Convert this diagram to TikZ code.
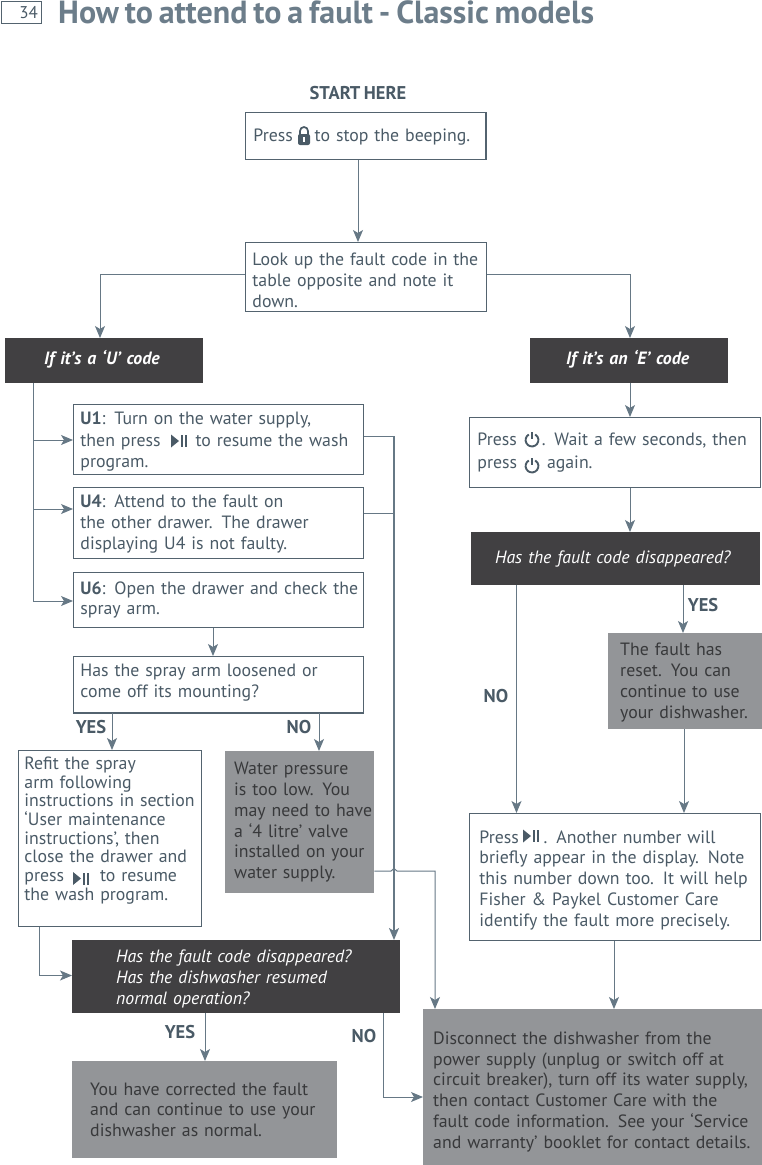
\documentclass[tikz,border=0pt]{standalone}
\usepackage{fontspec}
\setmainfont[WordSpace=0.72]{PT Sans}
\usetikzlibrary{arrows.meta}
\definecolor{inkblue}{HTML}{4A5A66}
\definecolor{titleblue}{HTML}{6C7D8A}
\definecolor{linkblue}{HTML}{667885}
\definecolor{edgeblue}{HTML}{53636F}
\definecolor{darkfill}{HTML}{414042}
\definecolor{greyfill}{HTML}{939598}
\definecolor{greyink}{HTML}{38393B}
\tikzset{
  sized/.style n args={3}{anchor=north west, minimum width=#1, minimum height=#2, inner xsep=#3, inner ysep=0pt, text width=#1-2*#3, align=left},
  nudge/.style={execute at begin node={\rule{0pt}{\dimexpr 13pt+#1\relax}}},
  lift/.style={execute at end node={\par\vspace*{#1}}},
  whitebox/.style={draw=edgeblue, line width=0.9pt, text=inkblue},
  darkbox/.style={fill=darkfill, text=white, font=\bodyfont\itshape},
  greybox/.style={fill=greyfill, text=greyink},
  flow/.style={draw=linkblue, line width=1pt, -{Stealth[length=12pt,width=10pt,inset=3pt]}},
  plainflow/.style={draw=linkblue, line width=1pt},
  heavyedge/.style={draw=edgeblue, line width=1.8pt},
  answer/.style={font=\fontsize{18.5}{21}\selectfont\bfseries, text=inkblue, inner sep=0pt},
  playicon/.pic={
    \fill[inkblue] (-8,-6.5) -- (0,0) -- (-8,6.5) -- cycle;
    \fill[inkblue] (2,-6) rectangle (4,6);
    \fill[inkblue] (6,-6) rectangle (8,6);
  },
  powericon/.pic={
    \draw[inkblue, line width=1.9pt] (-3.2,-5.5) arc[start angle=120, end angle=420, radius=6.4pt];
    \draw[inkblue, line width=1.9pt] (0,-8) -- (0,-1);
  },
  lockicon/.pic={
    \draw[inkblue, line width=1.7pt] (-4,-1) -- (-4,-5) arc[start angle=180, end angle=0, radius=4pt] -- (4,-1);
    \fill[inkblue, rounded corners=2pt] (-6,-2) rectangle (6,9);
    \fill[white] (-1,1) rectangle (1,6);
  },
}
\newcommand{\bodyfont}{\fontsize{17.8}{20.8}\selectfont\hyphenpenalty=10000 }
\begin{document}
\begin{tikzpicture}[x=1pt, y=-1pt, font=\bodyfont]
    \useasboundingbox (0,0) rectangle (762,1165);
    \node[draw=edgeblue, line width=0.9pt, anchor=north west, minimum width=40pt, minimum height=22pt, inner sep=0pt] (pagebox) at (0.5,0.5) {};
    \node[anchor=east, inner sep=0pt, text=inkblue, font=\fontsize{17}{20}\selectfont] (pageno) at (38,13) {34};
    \node[anchor=base west, inner sep=0pt, text=titleblue, font=\fontsize{32}{36}\selectfont\bfseries] (heading) at (58,23) {How to attend to a fault - Classic models};
    \node[answer] (start) at (358,93) {START HERE};

    \node[whitebox, sized={240pt}{47pt}{8pt}, nudge=2pt] (press) at (245,112) {Press \hspace{10pt} to stop the beeping.};
    \node[whitebox, sized={241pt}{69pt}{7pt}, nudge=6pt] (lookup) at (245,242) {Look up the fault code in the\\table opposite and note it\\down.};
    \node[darkbox, sized={198pt}{45pt}{39pt}, font=\bodyfont\bfseries\itshape, lift=2pt] (ucode) at (5,338) {If it’s a ‘U’ code};
    \node[darkbox, sized={198pt}{45pt}{36pt}, font=\bodyfont\bfseries\itshape, lift=2pt] (ecode) at (530,338) {If it’s an ‘E’ code};
    \node[whitebox, sized={290pt}{70pt}{7pt}, nudge=4pt] (uone) at (73,404) {\textbf{U1}: Turn on the water supply,\\[1.5pt]then press \hspace{23pt} to resume the wash\\program.};
    \node[whitebox, sized={290pt}{71pt}{7pt}, nudge=2pt] (ufour) at (73,487) {\textbf{U4}: Attend to the fault on\\the other drawer. The drawer\\displaying U4 is not faulty.};
    \node[whitebox, sized={290pt}{55pt}{7pt}] (usix) at (73,572) {\mbox{\textbf{U6}: Open the drawer and check the}\\spray arm.};
    \node[whitebox, sized={290pt}{56pt}{7pt}, lift=4pt] (spray) at (73,656) {Has the spray arm loosened or\\come off its mounting?};
    \node[whitebox, sized={183pt}{176pt}{6pt}, font=\fontsize{17.8}{18.7}\selectfont, lift=16pt] (refit) at (18,750) {Refit the spray\\arm following\\instructions in section\\‘User maintenance\\instructions’, then\\close the drawer and\\press \hspace{24pt} to resume\\the wash program.};
    \node[greybox, sized={149pt}{142pt}{9pt}] (pressure) at (225,751) {Water pressure\\is too low. You\\\mbox{may need to have}\\a ‘4 litre’ valve\\installed on your\\water supply.};
    \node[darkbox, sized={328pt}{73pt}{44pt}, nudge=4pt] (resumed) at (72,940) {Has the fault code disappeared?\\Has the dishwasher resumed\\normal operation?};
    \node[greybox, sized={265pt}{97pt}{18pt}] (corrected) at (72,1061) {You have corrected the fault\\and can continue to use your\\dishwasher as normal.};
    \node[greybox, sized={339pt}{156pt}{10pt}, nudge=9pt] (disconnect) at (423,1009) {Disconnect the dishwasher from the\\power supply (unplug or switch off at\\circuit breaker), turn off its water supply,\\then contact Customer Care with the\\fault code information. See your ‘Service\\and warranty’ booklet for contact details.};
    \node[whitebox, sized={291pt}{70pt}{8pt}] (power) at (469,417) {Press \hspace{19pt}. Wait a few seconds, then\\[1.5pt]press \hspace{18pt} again.};
    \node[darkbox, sized={289pt}{53pt}{24pt}] (cleared) at (471,532) {Has the fault code disappeared?};
    \node[greybox, sized={154pt}{96pt}{12pt}, nudge=2pt] (reset) at (608,633) {The fault has\\reset. You can\\continue to use\\your dishwasher.};
    \node[whitebox, sized={291pt}{127pt}{10pt}, nudge=6pt] (number) at (469,813) {Press \hspace{13pt} . Another number will\\briefly appear in the display. Note\\this number down too. It will help\\Fisher \& Paykel Customer Care\\identify the fault more precisely.};

    \pic at (304,136) {lockicon};
    \pic at (179,441) {playicon};
    \pic at (81,878.5) {playicon};
    \pic at (531,836) {playicon};
    \pic at (532,440) {powericon};
    \pic at (532,466) {powericon};

    \draw[heavyedge] (press.north east) -- (press.south east);
    \draw[heavyedge] (spray.south west) -- (spray.south east);

    \draw[flow] (press.south -| 358,0) -- (lookup.north -| 358,0);
    \draw[flow] (lookup.west |- 0,274) -| (ucode.north -| 100,0);
    \draw[flow] (lookup.east |- 0,274) -| (ecode.north -| 630,0);
    \foreach \target/\y in {uone/440,ufour/509,usix/601}
      \draw[flow] (ucode.south -| 33,0) |- (\target.west |- 0,\y);
    \draw[flow] (usix.south -| 213,0) -- (spray.north -| 213,0);
    \draw[flow] (spray.south -| 112,0) -- (refit.north -| 112,0);
    \draw[flow] (spray.south -| 319,0) -- (pressure.north -| 319,0);
    \draw[plainflow] (ufour.east |- 0,513) -- (394,513);
    \draw[flow, line width=1.6pt] (uone.east |- 0,436.5) -| (resumed.north -| 394,0);
    \draw[flow] (pressure.east |- 0,871) -- (391,871) .. controls (393,871) and (393,868) .. (394,868) .. controls (395,868) and (395,871) .. (397,871) -| (disconnect.north -| 435,0);
    \draw[flow] (refit.south -| 39,0) |- (resumed.west |- 0,975.5);
    \draw[flow] (resumed.south -| 205,0) -- (corrected.north -| 205,0);
    \draw[flow] (resumed.south -| 383,0) |- (disconnect.west |- 0,1097);
    \draw[flow] (ecode.south -| 630,0) -- (power.north -| 630,0);
    \draw[flow] (power.south -| 630,0) -- (cleared.north -| 630,0);
    \draw[flow] (cleared.south -| 516.5,0) -- (number.north -| 516.5,0);
    \draw[flow] (cleared.south -| 683,0) -- (reset.north -| 683,0);
    \draw[flow] (reset.south -| 684,0) -- (number.north -| 684,0);
    \draw[flow] (number.south -| 614,0) -- (disconnect.north -| 614,0);

    \node[answer] (yesspray) at (91,727) {YES};
    \node[answer] (nospray) at (299,727) {NO};
    \node[answer] (yescleared) at (703,605) {YES};
    \node[answer] (nocleared) at (496,696) {NO};
    \node[answer] (yesresumed) at (180,1032) {YES};
    \node[answer] (noresumed) at (364,1036) {NO};
  \end{tikzpicture}
\end{document}
